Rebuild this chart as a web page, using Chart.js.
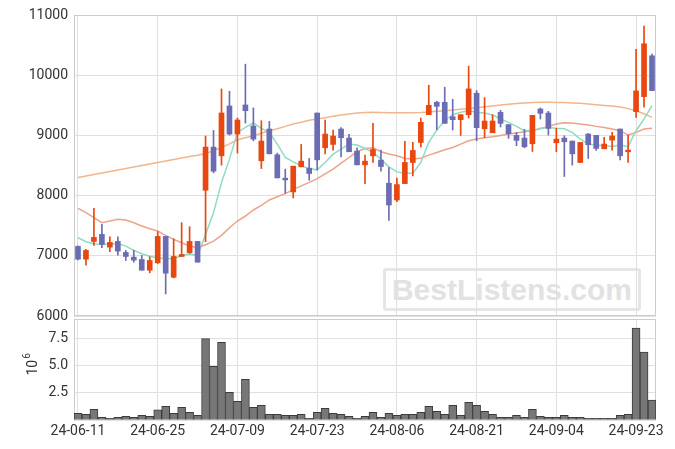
<!DOCTYPE html>
<html lang="en">
<head>
  <meta charset="UTF-8">
  <title>Price and Volume</title>
  <style>
    body {
      margin: 0;
      background: #ffffff;
    }
    #wrap {
      position: relative;
      width: 675px;
      height: 449px;
      background: #ffffff;
    }
    #wrap canvas {
      position: absolute;
      left: 0;
      top: 0;
    }
    #watermark {
      position: absolute;
      left: 383px;
      top: 268px;
      width: 258px;
      height: 43px;
      box-sizing: border-box;
      border: 3px solid #e6e6e6;
      border-radius: 3px;
      font: bold 30px "Liberation Sans", Arial, sans-serif;
      line-height: 37px;
      color: #e2e2e2;
      text-align: center;
    }
  </style>
</head>
<body>
  <div id="wrap">
    <div id="watermark">BestListens.com</div>
    <canvas id="price-chart" width="675" height="449"></canvas>
    <canvas id="volume-chart" width="675" height="449"></canvas>
  </div>

  <script src="https://cdn.jsdelivr.net/npm/chart.js"></script>
  <script>
    // trading days
    const dates = [
      '24-06-11', '24-06-12', '24-06-13', '24-06-14', '24-06-17', '24-06-18', '24-06-19', '24-06-20', '24-06-21', '24-06-24',
      '24-06-25', '24-06-26', '24-06-27', '24-06-28', '24-07-01', '24-07-02', '24-07-03', '24-07-04', '24-07-05', '24-07-08',
      '24-07-09', '24-07-10', '24-07-11', '24-07-12', '24-07-15', '24-07-16', '24-07-17', '24-07-18', '24-07-19', '24-07-22',
      '24-07-23', '24-07-24', '24-07-25', '24-07-26', '24-07-29', '24-07-30', '24-07-31', '24-08-01', '24-08-02', '24-08-05',
      '24-08-06', '24-08-07', '24-08-08', '24-08-09', '24-08-12', '24-08-13', '24-08-14', '24-08-16', '24-08-19', '24-08-20',
      '24-08-21', '24-08-22', '24-08-23', '24-08-26', '24-08-27', '24-08-28', '24-08-29', '24-08-30', '24-09-02', '24-09-03',
      '24-09-04', '24-09-05', '24-09-06', '24-09-09', '24-09-10', '24-09-11', '24-09-12', '24-09-13', '24-09-19', '24-09-20',
      '24-09-23', '24-09-24', '24-09-25'
    ];
    const tickDates = ['24-06-11', '24-06-25', '24-07-09', '24-07-23', '24-08-06', '24-08-21', '24-09-04', '24-09-23'];

    const open = [
      7156, 6944, 7239, 7356, 7144, 7239, 7056, 6978, 6939, 6761,
      6883, 7322, 6644, 6989, 7050, 7239, 8089, 8806, 8661, 9489,
      9022, 9506, 9156, 8578, 9106, 8678, 8289, 8061, 8478, 8456,
      9372, 8794, 8850, 9106, 8956, 8739, 8511, 8661, 8589, 8206,
      7928, 8200, 8550, 8883, 9344, 9550, 9550, 9311, 9261, 9344,
      9700, 9111, 9044, 9383, 9178, 9000, 8956, 8861, 9439, 9372,
      8878, 8956, 8906, 8550, 9022, 9000, 8778, 8922, 9106, 8728,
      9394, 9644, 10322
    ];
    const high = [
      7167, 7106, 7789, 7522, 7317, 7317, 7089, 7094, 7006, 6983,
      7400, 7322, 7283, 7550, 7483, 7239, 8989, 9083, 9772, 9733,
      9289, 10183, 9456, 9244, 9233, 8706, 8439, 8489, 8850, 8617,
      9372, 9256, 9089, 9128, 9017, 8794, 8672, 9200, 8756, 8467,
      8289, 8900, 8883, 9289, 9833, 9567, 9800, 9600, 9344, 10150,
      9744, 9628, 9344, 9417, 9183, 9050, 9100, 9333, 9456, 9400,
      9117, 8994, 8906, 8883, 9033, 9000, 8967, 9050, 9106, 9006,
      10428, 10817, 10350
    ];
    const low = [
      6933, 6844, 7172, 7133, 7067, 7011, 6922, 6894, 6761, 6717,
      6872, 6367, 6633, 6989, 7039, 6894, 7233, 8378, 8506, 9006,
      8706, 9206, 8911, 8450, 8694, 8294, 8039, 7961, 8478, 8256,
      8428, 8694, 8756, 8644, 8728, 8511, 8200, 8550, 8406, 7589,
      7900, 8200, 8328, 8806, 9344, 9094, 9200, 9089, 9000, 9289,
      8911, 8961, 9044, 9139, 8950, 8828, 8794, 8733, 9272, 9006,
      8728, 8317, 8506, 8550, 8617, 8750, 8778, 8756, 8594, 8550,
      9300, 9467, 9744
    ];
    const close = [
      6944, 7089, 7306, 7189, 7222, 7078, 6989, 6928, 6761, 6922,
      7322, 6711, 6989, 7022, 7239, 6894, 8806, 8406, 9372, 9022,
      9256, 9411, 8939, 8906, 8694, 8294, 8261, 8489, 8572, 8367,
      8594, 9022, 8989, 8961, 8728, 8511, 8572, 8767, 8483, 7844,
      8183, 8550, 8750, 9217, 9500, 9483, 9200, 9261, 9344, 9772,
      9128, 9239, 9239, 9200, 9028, 8917, 8811, 9333, 9367, 9117,
      8939, 8894, 8694, 8883, 8844, 8783, 8856, 8989, 8661, 8756,
      9739, 10522, 9744
    ];

    // moving average lines
    const maShort = [
      7300, 7233, 7200, 7189, 7200, 7200, 7161, 7089, 7033, 6994,
      6967, 6950, 6956, 7000, 7030, 7000, 7356, 7717, 8217, 8606,
      9050, 9133, 9206, 9117, 9050, 8856, 8633, 8561, 8494, 8450,
      8428, 8550, 8689, 8772, 8856, 8839, 8783, 8717, 8606, 8478,
      8394, 8372, 8372, 8550, 8883, 9089, 9244, 9344, 9383, 9411,
      9383, 9372, 9339, 9272, 9217, 9150, 9078, 9078, 9117, 9133,
      9117, 9110, 9050, 8939, 8856, 8839, 8828, 8817, 8839, 8817,
      9078, 9272, 9494
    ];
    const maMid = [
      7789, 7717, 7633, 7550, 7578, 7606, 7594, 7550, 7494, 7450,
      7411, 7339, 7272, 7217, 7161, 7133, 7183, 7244, 7339, 7467,
      7578, 7661, 7761, 7839, 7928, 7980, 8033, 8100, 8161, 8220,
      8283, 8360, 8439, 8540, 8633, 8728, 8783, 8794, 8728, 8690,
      8661, 8617, 8606, 8622, 8672, 8717, 8761, 8800, 8856, 8911,
      8939, 8960, 8978, 9000, 9022, 9039, 9060, 9078, 9110, 9150,
      9190, 9210, 9206, 9190, 9172, 9150, 9133, 9105, 9078, 9006,
      9050, 9106, 9117
    ];
    const maLong = [
      8300, 8325, 8350, 8375, 8400, 8425, 8450, 8475, 8500, 8525,
      8550, 8575, 8600, 8625, 8650, 8672, 8700, 8744, 8800, 8860,
      8928, 8960, 8994, 9035, 9078, 9110, 9150, 9189, 9220, 9250,
      9272, 9295, 9320, 9339, 9355, 9372, 9380, 9383, 9380, 9378,
      9375, 9375, 9378, 9382, 9390, 9400, 9410, 9420, 9433, 9445,
      9460, 9475, 9490, 9505, 9518, 9530, 9540, 9548, 9550, 9550,
      9548, 9545, 9540, 9532, 9522, 9510, 9498, 9488, 9470, 9445,
      9410, 9360, 9300
    ];

    // volume in millions of shares
    const volume = [
      0.62, 0.52, 0.99, 0.25, 0.15, 0.25, 0.34, 0.25, 0.43, 0.34,
      0.93, 1.27, 0.62, 1.17, 0.71, 0.43, 7.53, 4.97, 7.19, 2.56,
      1.73, 3.77, 1.17, 1.36, 0.52, 0.52, 0.43, 0.43, 0.52, 0.15,
      0.71, 1.08, 0.62, 0.52, 0.34, 0.15, 0.34, 0.71, 0.25, 0.62,
      0.43, 0.52, 0.52, 0.71, 1.27, 0.80, 0.52, 1.36, 0.43, 1.64,
      1.36, 0.80, 0.52, 0.25, 0.25, 0.43, 0.25, 0.99, 0.34, 0.25,
      0.25, 0.43, 0.25, 0.25, 0.15, 0.15, 0.15, 0.15, 0.43, 0.52,
      8.49, 6.27, 1.85
    ];

    const upColor = '#e8470f';
    const downColor = '#6b6db4';
    const gridColor = '#e0e0e0';
    const frameColor = '#cccccc';
    const textColor = '#333333';
    const font = { family: 'Roboto', size: 14 };

    const candleColors = open.map((o, i) => close[i] >= o ? upColor : downColor);
    const tickSet = new Set(tickDates);

    // light frame around the plot area
    const framePlugin = {
      id: 'frame',
      beforeDatasetsDraw(chart) {
        const a = chart.chartArea;
        const ctx = chart.ctx;
        ctx.save();
        ctx.strokeStyle = frameColor;
        ctx.lineWidth = 1;
        ctx.strokeRect(a.left + 0.5, a.top + 0.5, a.right - a.left - 1, a.bottom - a.top - 1);
        ctx.restore();
      }
    };

    // "10^6" unit label, rotated, left of the volume axis
    const unitPlugin = {
      id: 'unit',
      afterDraw(chart) {
        const a = chart.chartArea;
        const ctx = chart.ctx;
        ctx.save();
        ctx.translate(33, (a.top + a.bottom) / 2 + 6);
        ctx.rotate(-Math.PI / 2);
        ctx.fillStyle = textColor;
        ctx.textBaseline = 'middle';
        ctx.textAlign = 'left';
        ctx.font = '14px Roboto';
        ctx.fillText('10', 0, 0);
        const w = ctx.measureText('10').width;
        ctx.font = '10px Roboto';
        ctx.fillText('6', w + 1, -6);
        ctx.restore();
      }
    };

    function xGrid(ctx) {
      return tickSet.has(dates[ctx.index]) ? gridColor : 'rgba(0,0,0,0)';
    }

    function fixWidth(scale) {
      scale.width = 74;
    }

    // Price chart with candles and moving averages
    new Chart(document.getElementById('price-chart'), {
      type: 'bar',
      data: {
        labels: dates,
        datasets: [
          {
            type: 'line',
            data: maLong,
            borderColor: '#f1b68d',
            borderWidth: 1.5,
            pointRadius: 0,
            tension: 0,
            order: 5
          },
          {
            type: 'line',
            data: maMid,
            borderColor: '#eda389',
            borderWidth: 1.5,
            pointRadius: 0,
            tension: 0,
            order: 4
          },
          {
            type: 'line',
            data: maShort,
            borderColor: '#8fdcc1',
            borderWidth: 1.5,
            pointRadius: 0,
            tension: 0,
            order: 3
          },
          {
            data: low.map((l, i) => [l, high[i]]),
            backgroundColor: candleColors,
            barThickness: 1,
            grouped: false,
            order: 2
          },
          {
            data: open.map((o, i) => [Math.min(o, close[i]), Math.max(o, close[i])]),
            backgroundColor: candleColors,
            barThickness: 5,
            minBarLength: 1,
            grouped: false,
            order: 1
          }
        ]
      },
      options: {
        responsive: false,
        animation: false,
        layout: { padding: { left: 0, right: 19, top: 15, bottom: 133 } },
        plugins: { legend: { display: false }, tooltip: { enabled: false } },
        scales: {
          x: {
            offset: true,
            ticks: { display: false, autoSkip: false },
            grid: { offset: false, drawTicks: false, color: xGrid },
            border: { display: false },
            afterFit(scale) { scale.height = 0; }
          },
          y: {
            min: 6000,
            max: 11000,
            ticks: {
              stepSize: 1000,
              color: textColor,
              font: font,
              padding: 6,
              callback: v => String(v)
            },
            grid: { color: gridColor, drawTicks: false },
            border: { color: frameColor },
            afterFit: fixWidth
          }
        }
      },
      plugins: [framePlugin]
    });

    // Volume chart
    const volMax = Math.max(...volume) * 1.1;
    new Chart(document.getElementById('volume-chart'), {
      type: 'bar',
      data: {
        labels: dates,
        datasets: [{
          data: volume,
          backgroundColor: '#777777',
          borderColor: '#3c3c3c',
          borderWidth: 1,
          barPercentage: 1,
          categoryPercentage: 1
        }]
      },
      options: {
        responsive: false,
        animation: false,
        layout: { padding: { left: 0, right: 19, top: 319, bottom: 9 } },
        plugins: { legend: { display: false }, tooltip: { enabled: false } },
        scales: {
          x: {
            offset: true,
            ticks: {
              autoSkip: false,
              maxRotation: 0,
              color: textColor,
              font: font,
              padding: 3,
              callback: (v, i) => tickSet.has(dates[i]) ? dates[i] : ''
            },
            grid: { offset: false, drawTicks: false, color: xGrid },
            border: { display: false },
            afterFit(scale) { scale.height = 20; }
          },
          y: {
            min: 0,
            max: volMax,
            ticks: {
              stepSize: 2.5,
              color: textColor,
              font: font,
              padding: 6,
              callback: v => (v > 0 && v < volMax - 0.5) ? v.toFixed(1) : ''
            },
            grid: { color: gridColor, drawTicks: false },
            border: { color: frameColor },
            afterFit: fixWidth
          }
        }
      },
      plugins: [framePlugin, unitPlugin]
    });
  </script>
</body>
</html>
